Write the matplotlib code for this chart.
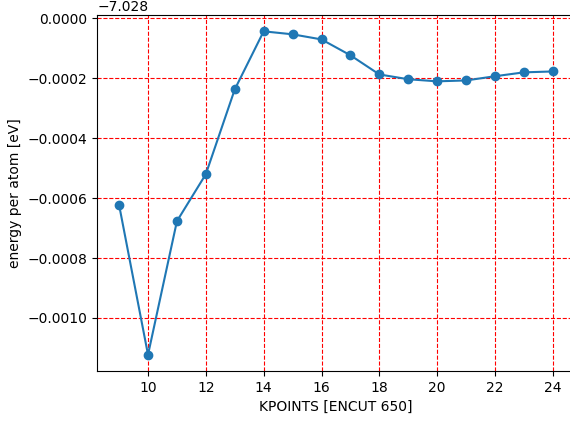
import numpy as np
import matplotlib.pyplot as plt

kpoints = [9, 10, 11, 12, 13, 14, 15, 16, 17, 18, 19, 20, 21, 22, 23, 24]
energy = [-7.028623, -7.029123, -7.028677, -7.028520, -7.028237, -7.028043,
          -7.028053, -7.028070, -7.028123, -7.028187, -7.028203, -7.028210,
          -7.028207, -7.028193, -7.028180, -7.028177]

fig = plt.figure(figsize=(5.7, 4.21), dpi=100)
ax = fig.add_axes([0.1709, 0.119, 0.837, 0.845])
ax.plot(kpoints, energy, 'o-')
ax.grid(color='red', linestyle='--')
ax.set_xlabel('KPOINTS [ENCUT 650]')
ax.set_ylabel('energy per atom [eV]')
ax.ticklabel_format(axis='y', useOffset=-7.028)
plt.savefig('out.png', dpi=100)
